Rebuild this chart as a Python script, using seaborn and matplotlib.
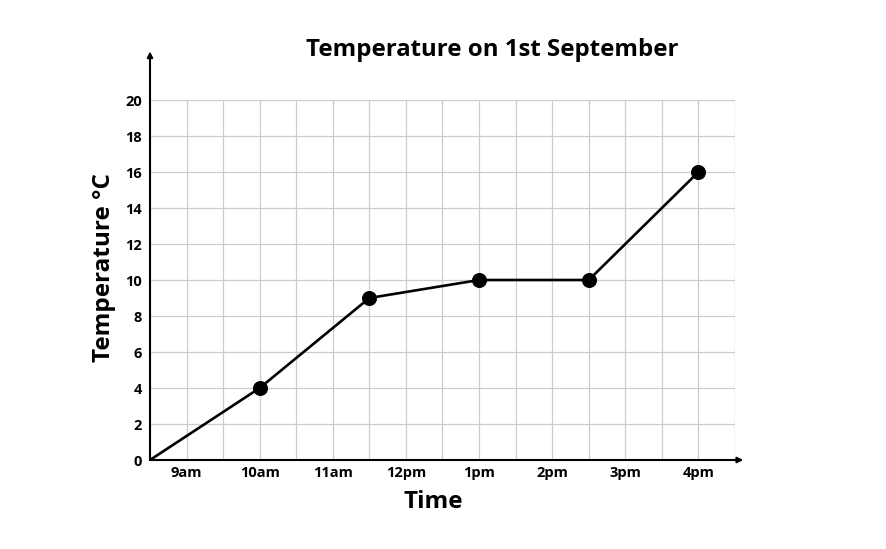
import matplotlib
matplotlib.use("Agg")
import matplotlib.pyplot as plt
import seaborn as sns
import numpy as np
import pandas as pd

# Data
times = [8.5, 10, 11.5, 13, 14.5, 16]
temps = [0, 4, 9, 10, 10, 16]
tick_hours = [9, 10, 11, 12, 13, 14, 15, 16]
tick_labels = ["9am", "10am", "11am", "12pm", "1pm", "2pm", "3pm", "4pm"]
y_ticks = [0, 2, 4, 6, 8, 10, 12, 14, 16, 18, 20]

sns.set_theme(style="white")
plt.rcParams['font.family'] = ['Open Sans', 'DejaVu Sans']
plt.rcParams['text.color'] = 'black'
plt.rcParams['xtick.color'] = 'black'
plt.rcParams['ytick.color'] = 'black'

df = pd.DataFrame({"time": times, "temp": temps})

fig = plt.figure(figsize=(8.87, 5.49), dpi=100)
ax = fig.add_axes([150/887, 89/549, 585/887, 360/549])

sns.lineplot(data=df, x="time", y="temp", ax=ax, color="black", linewidth=1.9, zorder=3)
sns.scatterplot(data=df.iloc[1:], x="time", y="temp", ax=ax, color="black", s=100,
                edgecolor="black", zorder=4)

ax.set_xlim(8.5, 16.5)
ax.set_ylim(0, 20)
ax.set_xticks(tick_hours)
ax.set_xticklabels(tick_labels, fontweight="bold", fontsize=10.5, color="black")
ax.set_xticks(np.arange(8.5, 16.51, 0.5), minor=True)
ax.set_yticks(y_ticks)
ax.set_yticklabels([str(v) for v in y_ticks], fontweight="bold", fontsize=10.5, color="black")
ax.tick_params(axis="both", which="both", length=0)
ax.tick_params(axis="x", pad=4)
ax.tick_params(axis="y", pad=6)
ax.grid(True, which="both", color="#cccccc", linewidth=0.9)
ax.set_axisbelow(True)

for s in ["top", "right", "left", "bottom"]:
    ax.spines[s].set_visible(False)
# right edge grid line
ax.axvline(16.5, color="#cccccc", linewidth=0.9, zorder=0)

# axes with arrows
ax.annotate("", xy=(0, 1.135), xytext=(0, 0), xycoords="axes fraction",
            arrowprops=dict(arrowstyle="-|>", color="black", lw=1.5,
                            mutation_scale=8, shrinkA=0, shrinkB=0),
            annotation_clip=False)
ax.annotate("", xy=(1.014, 0), xytext=(0, 0), xycoords="axes fraction",
            arrowprops=dict(arrowstyle="-|>", color="black", lw=1.5,
                            mutation_scale=8, shrinkA=0, shrinkB=0),
            annotation_clip=False)

ax.set_xlabel("")
ax.set_ylabel("")
fig.text(492/887, 1 - 50/549, "Temperature on 1st September", ha="center", va="center",
         fontsize=17.3, fontweight="bold", color="black")
fig.text(433/887, 1 - 502/549, "Time", ha="center", va="center",
         fontsize=17.5, fontweight="bold", color="black")
fig.text(104/887, 1 - 267/549, "Temperature °C", ha="center", va="center",
         fontsize=17.5, fontweight="bold", rotation=90, color="black")

fig.savefig("out.png", dpi=100, facecolor="white")
